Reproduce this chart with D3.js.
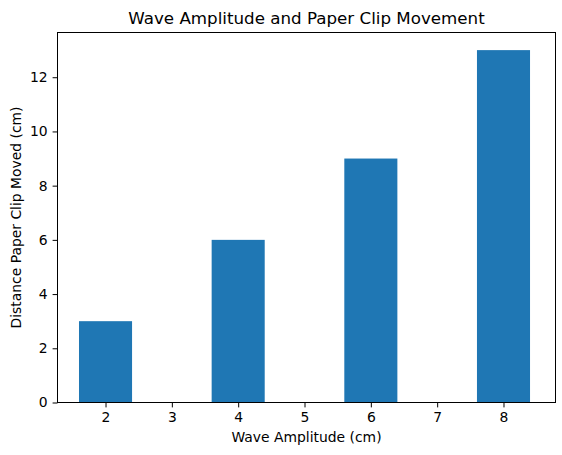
<!DOCTYPE html>
<html><head><meta charset="utf-8">
<script src="https://cdn.jsdelivr.net/npm/d3@7"></script>
<style>body{margin:0;background:#fff}svg{display:block;font-family:"DejaVu Sans",sans-serif}</style>
</head><body><svg id="c" width="562" height="455"></svg>
<script>
const amplitudes = [2, 4, 6, 8];
const distances = [3, 6, 9, 13];
const xTicks = [2, 3, 4, 5, 6, 7, 8];
const yTicks = [0, 2, 4, 6, 8, 10, 12];
const titleText = "Wave Amplitude and Paper Clip Movement";
const xLabel = "Wave Amplitude (cm)";
const yLabel = "Distance Paper Clip Moved (cm)";

const svg = d3.select("#c");
const L = 57.5, R = 555.5, T = 32.5, B = 402.5;
const barW = 0.8;
const x = d3.scaleLinear().domain([1.276, 8.784]).range([L, R]);
const y = d3.scaleLinear().domain([0, 13.65]).range([B, T]);

svg.selectAll("rect.bar").data(amplitudes).enter().append("rect")
  .attr("class", "bar")
  .attr("x", (d) => x(d - barW / 2))
  .attr("width", (d) => x(d + barW / 2) - x(d - barW / 2))
  .attr("y", (d, i) => y(distances[i]))
  .attr("height", (d, i) => y(0) - y(distances[i]))
  .attr("fill", "#1f77b4");

const xa = svg.append("g").attr("transform", `translate(0,${B})`)
  .call(d3.axisBottom(x).tickValues(xTicks).tickFormat(d3.format("d")).tickSize(4.9).tickPadding(4.9));
const ya = svg.append("g").attr("transform", `translate(${L},0)`)
  .call(d3.axisLeft(y).tickValues(yTicks).tickFormat(d3.format("d")).tickSize(4.9).tickPadding(4.9));
[xa, ya].forEach(a => {
  a.select(".domain").remove();
  a.selectAll("text").attr("font-size", 13.9).attr("fill", "#000").attr("font-family", "DejaVu Sans");
  a.selectAll("line").attr("stroke", "#000").attr("stroke-width", 1);
});
svg.append("rect").attr("x", L).attr("y", T).attr("width", R - L).attr("height", B - T)
  .attr("fill", "none").attr("stroke", "#000").attr("stroke-width", 1);

svg.append("text").attr("x", (L + R) / 2).attr("y", 23.5).attr("text-anchor", "middle")
  .attr("font-size", 16.7).text(titleText);
svg.append("text").attr("x", (L + R) / 2).attr("y", 442).attr("text-anchor", "middle")
  .attr("font-size", 13.9).text(xLabel);
svg.append("text").attr("transform", `translate(21,${(T + B) / 2}) rotate(-90)`).attr("text-anchor", "middle")
  .attr("font-size", 13.9).text(yLabel);
</script></body></html>
